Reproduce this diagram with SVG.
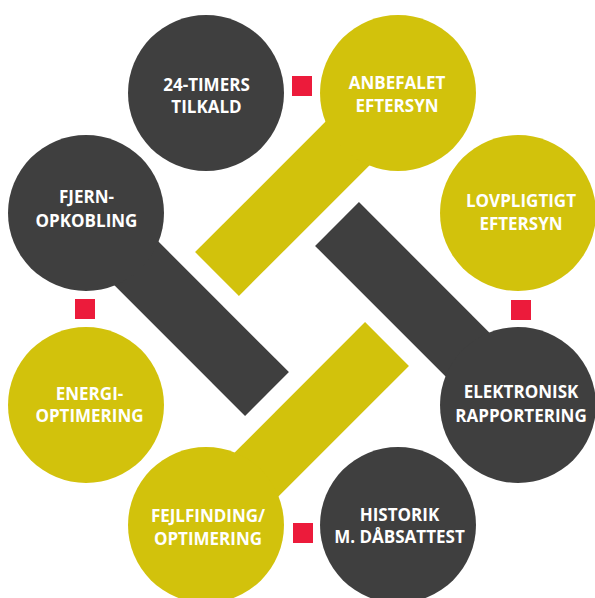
<svg xmlns="http://www.w3.org/2000/svg" width="595" height="598" viewBox="0 0 595 598">
<style>
.dk{fill:#3f3f3f}
.yl{fill:#d2c20c}
.bdk{stroke:#3f3f3f;stroke-width:62;stroke-linecap:butt;fill:none}
.byl{stroke:#d2c20c;stroke-width:62;stroke-linecap:butt;fill:none}
.sq{fill:#ec1b3b}
text{font-family:"Open Sans","Noto Sans",sans-serif;font-weight:bold;font-size:17px;fill:#ffffff;text-anchor:middle}
</style>
<rect width="595" height="598" fill="#ffffff"/>
<g id="connectors">
<line class="byl" x1="398" y1="93" x2="217" y2="274"/>
<line class="bdk" x1="86" y1="213" x2="267" y2="394"/>
<line class="bdk" x1="518" y1="405" x2="337" y2="224"/>
<line class="byl" x1="206" y1="525" x2="387" y2="344"/>
<rect class="sq" x="292" y="76" width="20" height="20"/>
<rect class="sq" x="75" y="299" width="20" height="20"/>
<rect class="sq" x="511" y="300" width="20" height="20"/>
<rect class="sq" x="293" y="523" width="20" height="20"/>
</g>
<g id="n-24timers"><circle class="dk" cx="206" cy="93" r="78"/><text x="206.5" y="90.5">24-TIMERS</text><text x="206.5" y="113">TILKALD</text></g>
<g id="n-anbefalet"><circle class="yl" cx="398" cy="93" r="78"/><text x="397" y="88.5">ANBEFALET</text><text x="397" y="112">EFTERSYN</text></g>
<g id="n-fjern"><circle class="dk" cx="86" cy="213" r="78"/><text x="86.5" y="203">FJERN-</text><text x="86.5" y="227">OPKOBLING</text></g>
<g id="n-lovpligtigt"><circle class="yl" cx="518" cy="213" r="78"/><text x="521" y="206.5">LOVPLIGTIGT</text><text x="521" y="229.5">EFTERSYN</text></g>
<g id="n-energi"><circle class="yl" cx="86" cy="405" r="78"/><text x="89.5" y="400">ENERGI-</text><text x="89.5" y="421.5">OPTIMERING</text></g>
<g id="n-elektronisk"><circle class="dk" cx="518" cy="405" r="78"/><text x="521" y="398.3">ELEKTRONISK</text><text x="521" y="421.5">RAPPORTERING</text></g>
<g id="n-fejlfinding"><circle class="yl" cx="206" cy="525" r="78"/><text x="208" y="522.3">FEJLFINDING/</text><text x="208" y="545">OPTIMERING</text></g>
<g id="n-historik"><circle class="dk" cx="398" cy="525" r="78"/><text x="399.5" y="520.7">HISTORIK</text><text x="399.5" y="543.3">M. DÅBSATTEST</text></g>
</svg>
